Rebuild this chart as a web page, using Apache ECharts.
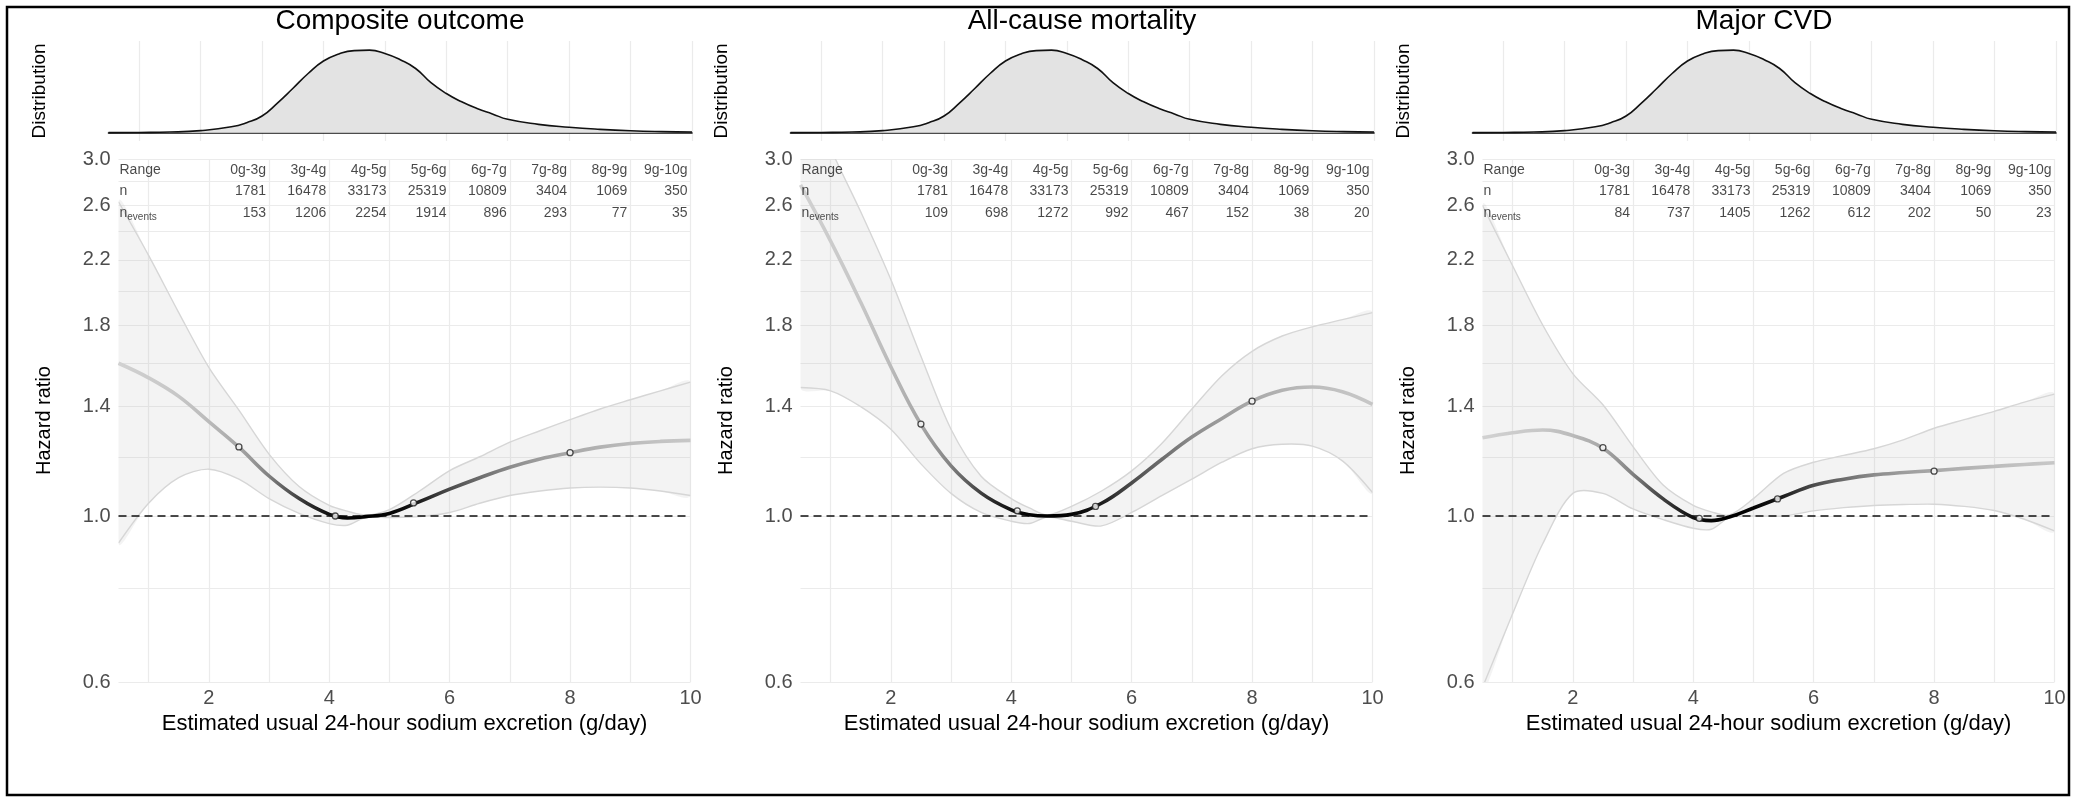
<!DOCTYPE html>
<html>
<head>
<meta charset="utf-8">
<title>Sodium excretion and outcomes</title>
<script src="https://cdn.jsdelivr.net/npm/echarts@6/dist/echarts.min.js"></script>
<style>
  html, body { margin: 0; padding: 0; background: #fff; }
  #main { width: 2076px; height: 801px; }
</style>
</head>
<body>
<div id="main"></div>
<script>
// panel titles
let titles = ['Composite outcome', 'All-cause mortality', 'Major CVD'];

// sodium excretion (g/day) where the curves were read
let xs = [0.5, 1, 1.5, 2, 2.5, 3, 3.5, 4, 4.3, 4.6, 5, 5.5, 6, 6.5, 7, 7.5, 8, 8.5, 9, 9.5, 10];

// composite outcome: hazard ratio + 95% CI
let hrComposite = [1.60, 1.53, 1.445, 1.337, 1.236, 1.131, 1.055, 1.005, 0.994, 0.998, 1.008, 1.045, 1.086, 1.125, 1.162, 1.192, 1.215, 1.236, 1.25, 1.258, 1.262];
let loComposite = [0.92, 1.04, 1.125, 1.155, 1.12, 1.055, 1.008, 0.977, 0.972, 0.995, 0.995, 0.998, 1.011, 1.04, 1.065, 1.08, 1.09, 1.093, 1.09, 1.08, 1.065];
let hiComposite = [2.63, 2.23, 1.87, 1.58, 1.385, 1.21, 1.095, 1.033, 1.015, 1.003, 1.02, 1.08, 1.15, 1.2, 1.255, 1.3, 1.345, 1.39, 1.43, 1.47, 1.51];

// all-cause mortality
let hrMortality = [2.77, 2.33, 1.93, 1.583, 1.326, 1.167, 1.073, 1.019, 1.004, 1.0, 1.005, 1.04, 1.107, 1.19, 1.275, 1.35, 1.424, 1.472, 1.487, 1.466, 1.41];
let loMortality = [1.485, 1.47, 1.40, 1.306, 1.174, 1.072, 1.011, 0.984, 0.977, 0.997, 0.984, 0.97, 1.011, 1.065, 1.12, 1.18, 1.23, 1.247, 1.24, 1.185, 1.075];
let hiMortality = [3.9, 3.1, 2.55, 2.07, 1.635, 1.306, 1.13, 1.055, 1.025, 1.003, 1.03, 1.08, 1.149, 1.25, 1.39, 1.54, 1.66, 1.74, 1.79, 1.83, 1.87];

// major CVD
let hrCvd = [1.272, 1.292, 1.303, 1.281, 1.232, 1.137, 1.054, 0.995, 0.986, 0.997, 1.025, 1.062, 1.099, 1.12, 1.135, 1.143, 1.15, 1.158, 1.165, 1.172, 1.178];
let loCvd = [0.59, 0.74, 0.918, 1.072, 1.072, 1.022, 0.989, 0.963, 0.96, 0.995, 1.0, 1.0, 1.016, 1.026, 1.033, 1.036, 1.037, 1.03, 1.017, 0.99, 0.955];
let hiCvd = [2.6, 2.16, 1.80, 1.55, 1.408, 1.238, 1.10, 1.033, 1.013, 1.003, 1.055, 1.14, 1.18, 1.205, 1.23, 1.265, 1.31, 1.345, 1.38, 1.42, 1.455];

// open circles on the curves
let pointX = [2.5, 4.1, 5.4, 8.0];
let ptsComposite = [1.237, 1.0, 1.041, 1.215];
let ptsMortality = [1.327, 1.016, 1.03, 1.424];
let ptsCvd = [1.234, 0.993, 1.054, 1.148];

// distribution of estimated sodium excretion
let densX = [0.5, 1, 1.5, 2, 2.5, 2.75, 3, 3.25, 3.5, 3.75, 4, 4.25, 4.5, 4.75, 5, 5.25, 5.5, 5.75, 6, 6.25, 6.5, 6.75, 7, 7.5, 8, 8.5, 9, 9.5, 10];
let densY = [0, 0.001, 0.003, 0.010, 0.028, 0.048, 0.080, 0.142, 0.212, 0.284, 0.344, 0.378, 0.394, 0.396, 0.380, 0.350, 0.308, 0.240, 0.188, 0.148, 0.116, 0.090, 0.064, 0.040, 0.026, 0.016, 0.009, 0.005, 0.003];

// table in the plots
let ranges = ['0g-3g', '3g-4g', '4g-5g', '5g-6g', '6g-7g', '7g-8g', '8g-9g', '9g-10g'];
let nCount = [1781, 16478, 33173, 25319, 10809, 3404, 1069, 350];
let evComposite = [153, 1206, 2254, 1914, 896, 293, 77, 35];
let evMortality = [109, 698, 1272, 992, 467, 152, 38, 20];
let evCvd = [84, 737, 1405, 1262, 612, 202, 50, 23];

// ticks
let xTicks = [2, 4, 6, 8, 10];
let xGrid = [1, 2, 3, 4, 5, 6, 7, 8, 9, 10];
let yTicks = [0.6, 1.0, 1.4, 1.8, 2.2, 2.6, 3.0];
let yGrid = [0.6, 0.8, 1.0, 1.2, 1.4, 1.6, 1.8, 2.0, 2.2, 2.4, 2.6, 2.8, 3.0];


let panels = [
    {hr: hrComposite, lo: loComposite, hi: hiComposite, pts: ptsComposite, ev: evComposite},
    {hr: hrMortality, lo: loMortality, hi: hiMortality, pts: ptsMortality, ev: evMortality},
    {hr: hrCvd, lo: loCvd, hi: hiCvd, pts: ptsCvd, ev: evCvd}
];

let font = '"Liberation Sans", Arial, Helvetica, sans-serif';
let gridColor = '#ebebeb';
let bandLine = '#d6d6d6';
let step = 682;
let rowY = [2.9, 2.72, 2.54];

function pairs(xArr, yArr) {
    return xArr.map((x, j) => [x, yArr[j]]);
}

// line shade follows the density: dark where most people are
let dMax = Math.max(...densY);
let shadeStops = densX.map((x, j) => {
    let g = Math.round(210 * (1 - Math.pow(densY[j] / dMax, 0.6)));
    return {offset: (x - 0.5) / 9.5, color: 'rgb(' + g + ',' + g + ',' + g + ')'};
});

function tableData(ev) {
    let data = [];
    let rows = [['Range', ranges], ['n', nCount], ['events', ev]];
    rows.forEach((row, r) => {
        data.push({value: [0.5, rowY[r]], name: row[0],
            label: {position: 'right', distance: 1}});
        row[1].forEach((v, k) => {
            let upper = parseFloat(ranges[k].split('-')[1]);
            data.push({value: [upper, rowY[r]], name: String(v)});
        });
    });
    return data;
}

// CI band drawn as one polygon through the axis scales
function bandRenderer(lo, hi) {
    return function (params, api) {
        if (params.dataIndex !== 0) return null;
        let upper = xs.map((x, j) => api.coord([x, hi[j]]));
        let lower = xs.map((x, j) => api.coord([x, lo[j]]));
        let cs = params.coordSys;
        let clip = {type: 'rect', shape: {x: cs.x, y: cs.y, width: cs.width, height: cs.height}};
        return {
            type: 'group',
            children: [
                {type: 'polygon', clipPath: clip,
                    shape: {points: upper.concat(lower.slice().reverse()), smooth: 0.3},
                    style: {fill: 'rgba(190,190,190,0.18)', stroke: null}},
                {type: 'polyline', clipPath: clip, shape: {points: upper, smooth: 0.3},
                    style: {fill: null, stroke: bandLine, lineWidth: 1.4}},
                {type: 'polyline', clipPath: clip, shape: {points: lower, smooth: 0.3},
                    style: {fill: null, stroke: bandLine, lineWidth: 1.4}}
            ]
        };
    };
}

let grids = [], xAxes = [], yAxes = [], series = [], graphics = [];

panels.forEach((p, i) => {
    let off = i * step;
    let gd = 2 * i, gh = 2 * i + 1;

    grids.push({left: 108.5 + off, top: 41, width: 583.5, height: 100, outerBoundsMode: 'none'});
    grids.push({left: 118.5 + off, top: 159, width: 572, height: 523, outerBoundsMode: 'none'});

    // distribution panel
    xAxes.push({
        gridIndex: gd, type: 'value', min: 0.5, max: 10,
        axisLine: {show: true, onZero: true, lineStyle: {color: '#111', width: 1.6}},
        axisTick: {show: false, customValues: xGrid},
        axisLabel: {show: false},
        splitLine: {show: true, lineStyle: {color: gridColor, width: 1.2}}
    });
    yAxes.push({
        gridIndex: gd, type: 'value', min: -0.04, max: 0.44,
        axisLine: {show: false}, axisTick: {show: false}, axisLabel: {show: false},
        splitLine: {show: false},
        name: 'Distribution', nameLocation: 'middle', nameGap: 59,
        nameTextStyle: {fontSize: 19, color: '#000', fontFamily: font}
    });

    // hazard ratio panel
    xAxes.push({
        gridIndex: gh, type: 'value', min: 0.5, max: 10,
        axisLine: {show: false, onZero: false},
        axisTick: {show: false, customValues: xGrid},
        axisLabel: {customValues: xTicks, fontSize: 20, color: '#4d4d4d', margin: 6, fontFamily: font},
        splitLine: {show: true, lineStyle: {color: gridColor, width: 1.2}},
        name: 'Estimated usual 24-hour sodium excretion (g/day)',
        nameLocation: 'middle', nameGap: 24,
        nameTextStyle: {fontSize: 22, color: '#000', fontFamily: font}
    });
    yAxes.push({
        gridIndex: gh, type: 'log', min: 0.6, max: 3.0,
        axisLine: {show: false}, axisTick: {show: false, customValues: yGrid},
        axisLabel: {customValues: yTicks, formatter: v => v.toFixed(1), fontSize: 20,
            color: '#4d4d4d', margin: 8, fontFamily: font},
        splitLine: {show: true, lineStyle: {color: gridColor, width: 1.2}},
        name: 'Hazard ratio', nameLocation: 'middle', nameGap: 64,
        nameTextStyle: {fontSize: 20, color: '#000', fontFamily: font}
    });

    series.push({
        type: 'line', xAxisIndex: gd, yAxisIndex: gd, data: pairs(densX, densY),
        smooth: 0.5, symbol: 'none', silent: true, z: 2,
        lineStyle: {color: '#111', width: 1.6},
        areaStyle: {color: '#e3e3e3', opacity: 1}
    });

    series.push({
        type: 'custom', xAxisIndex: gh, yAxisIndex: gh, silent: true, z: 2, clip: true,
        data: xs.map((x, j) => [x, p.lo[j], p.hi[j]]),
        encode: {x: 0, y: [1, 2]},
        renderItem: bandRenderer(p.lo, p.hi)
    });

    series.push({
        type: 'line', xAxisIndex: gh, yAxisIndex: gh, data: pairs(xs, p.hr),
        smooth: 0.4, symbol: 'none', silent: true, z: 4,
        lineStyle: {width: 3.6, color: new echarts.graphic.LinearGradient(0, 0, 1, 0, shadeStops)},
        markLine: {
            silent: true, symbol: 'none', z: 3, label: {show: false},
            lineStyle: {color: '#111', type: [8, 5], width: 1.5},
            data: [{yAxis: 1}]
        }
    });

    series.push({
        type: 'scatter', xAxisIndex: gh, yAxisIndex: gh, data: pairs(pointX, p.pts),
        symbol: 'circle', symbolSize: 6, silent: true, z: 5,
        itemStyle: {color: '#fff', borderColor: '#222', borderWidth: 1.3}
    });

    series.push({
        type: 'scatter', xAxisIndex: gh, yAxisIndex: gh, data: tableData(p.ev),
        symbolSize: 0, silent: true, z: 6,
        label: {
            show: true, position: 'left', distance: 3, color: '#1a1a1a', fontSize: 14, fontFamily: font,
            formatter: d => d.name === 'events' ? '{n|n}{e|events}' : d.name,
            rich: {
                n: {fontSize: 14, color: '#1a1a1a', fontFamily: font},
                e: {fontSize: 10, padding: [9, 0, 0, 0], color: '#1a1a1a', fontFamily: font}
            }
        }
    });

    graphics.push({
        type: 'text', x: 400 + off, y: 21,
        style: {text: titles[i], fontSize: 28, fontFamily: font, fill: '#000',
            textAlign: 'center', textVerticalAlign: 'middle'}
    });
});

graphics.push({
    type: 'rect', shape: {x: 7, y: 7, width: 2062, height: 788},
    style: {fill: 'none', stroke: '#000', lineWidth: 2.5}
});

let chart = echarts.init(document.getElementById('main'));
chart.setOption({
    animation: false,
    backgroundColor: '#fff',
    grid: grids,
    xAxis: xAxes,
    yAxis: yAxes,
    series: series,
    graphic: graphics
});
</script>
</body>
</html>
